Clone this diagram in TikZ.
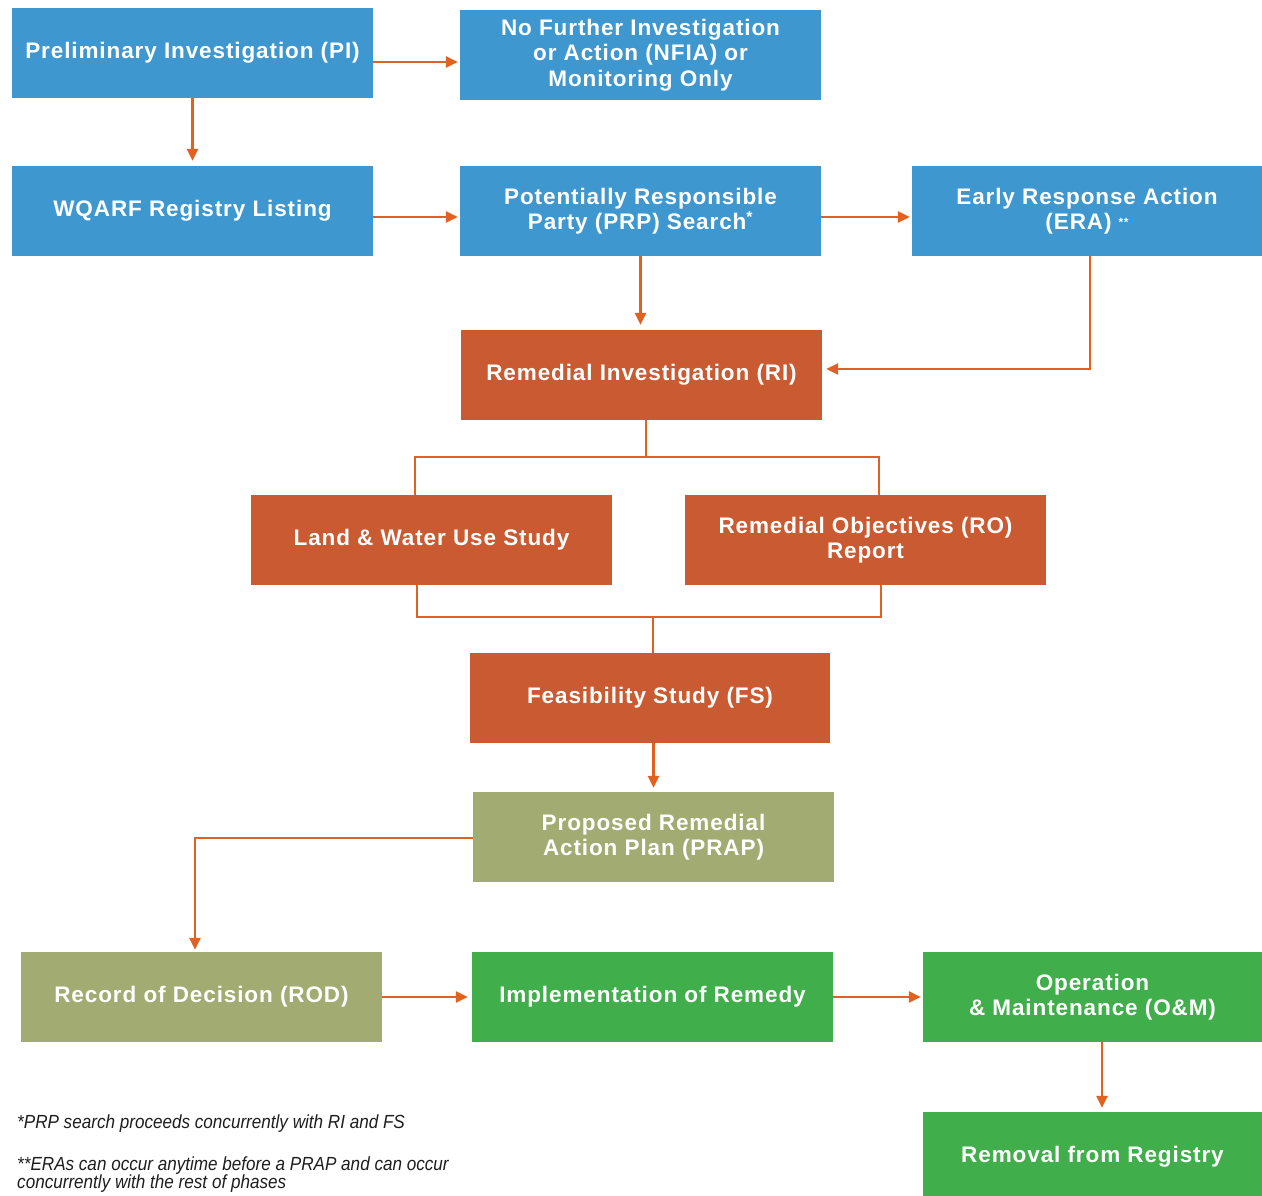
\documentclass[tikz,border=0pt]{standalone}
\usepackage{fontspec}
\setmainfont{Liberation Sans}
\newfontfamily\boxfont[LetterSpace=4]{Liberation Sans}
\newfontfamily\notefont[FakeStretch=0.9]{Liberation Sans}
\usetikzlibrary{arrows.meta,calc}
\definecolor{cblue}{HTML}{3E97CE}
\definecolor{corange}{HTML}{C95A32}
\definecolor{colive}{HTML}{A2AB72}
\definecolor{cgreen}{HTML}{40AE4A}
\definecolor{cline}{HTML}{E2611F}
\definecolor{cnote}{HTML}{1E1E1E}
\begin{document}
\begin{tikzpicture}[x=1pt,y=-1pt,
  box/.style={minimum width=361pt, minimum height=90pt, inner sep=0pt, align=center,
    text=white, font=\boxfont\bfseries\fontsize{22.5}{25.5}\selectfont},
  blue/.style={box, fill=cblue},
  orng/.style={box, fill=corange},
  olive/.style={box, fill=colive},
  grn/.style={box, fill=cgreen},
  link/.style={draw=cline, line width=2.6pt},
  arr/.style={link, -{Triangle[length=12pt,width=11pt]}, shorten >=2pt},
  note/.style={anchor=west, inner sep=0pt, text=cnote, font=\notefont\itshape\fontsize{19}{22}\selectfont}]
\useasboundingbox (0,0) rectangle (1262,1196);
\fill[white] (0,0) rectangle (1262,1196);

\node[blue] (pi) at (192.5,53) {Preliminary Investigation (PI)};
\node[blue] (nfia) at (640.5,55) {No Further Investigation\\or Action (NFIA) or\\Monitoring Only};
\node[blue] (wqarf) at (192.5,211) {WQARF Registry Listing};
\node[blue] (prp) at (640.5,211) {Potentially Responsible\\Party (PRP) Search\textsuperscript{*}};
\node[blue, minimum width=350pt] (era) at (1087,211) {Early Response Action\\(ERA) \raisebox{3pt}{\fontsize{12}{12}\selectfont **}};
\node[orng] (ri) at (641.5,375) {Remedial Investigation (RI)};
\node[orng] (land) at (431.5,540) {Land \& Water Use Study};
\node[orng] (ro) at (865.5,540) {Remedial Objectives (RO)\\Report};
\node[orng, minimum width=360pt] (fs) at (650,698) {Feasibility Study (FS)};
\node[olive] (prap) at (653.5,837) {Proposed Remedial\\Action Plan (PRAP)};
\node[olive] (rod) at (201.5,997) {Record of Decision (ROD)};
\node[grn] (impl) at (652.5,997) {Implementation of Remedy};
\node[grn, minimum width=339pt] (om) at (1092.5,997) {Operation\\\& Maintenance (O\&M)};
\node[grn, minimum width=339pt] (rem) at (1092.5,1157) {Removal from Registry};

\coordinate (j1) at (646,457);
\coordinate (j2) at (653,617);

\draw[arr] ($(pi.east)+(0,9)$) -- ($(nfia.west)+(0,7)$);
\draw[arr, shorten >=5pt] (pi.south) -- (wqarf.north);
\draw[arr] ($(wqarf.east)+(0,6)$) -- ($(prp.west)+(0,6)$);
\draw[arr] ($(prp.east)+(0,6)$) -- ($(era.west)+(0,6)$);
\draw[arr, shorten >=5pt] (prp.south) -- (prp.south |- ri.north);
\draw[arr, shorten >=4pt] ($(era.south)+(3,0)$) |- ($(ri.east)+(0,-6)$);
\draw[link] (ri.south -| j1) -- (j1);
\draw[link] ($(land.north)+(-16.5,0)$) |- (j1) -| ($(ro.north)+(13.5,0)$);
\draw[link] ($(land.south)+(-14.5,0)$) |- (j2) -| ($(ro.south)+(15.5,0)$);
\draw[link] (j2) -- (fs.north -| j2);
\draw[arr, shorten >=4pt] (prap.north |- fs.south) -- (prap.north);
\draw[arr] ($(prap.west)+(0,1)$) -| ($(rod.north)+(-6.5,0)$);
\draw[arr, shorten >=4pt] (rod.east) -- (impl.west);
\draw[arr] (impl.east) -- (om.west);
\draw[arr, shorten >=4pt] ($(om.south)+(9.5,0)$) -- ($(rem.north)+(9.5,0)$);

\node[note] (n1) at (17,1124) {*PRP search proceeds concurrently with RI and FS};
\node[note] (n2) at (17,1166) {**ERAs can occur anytime before a PRAP and can occur};
\node[note] (n3) at (17,1184) {concurrently with the rest of phases};
\end{tikzpicture}
\end{document}
